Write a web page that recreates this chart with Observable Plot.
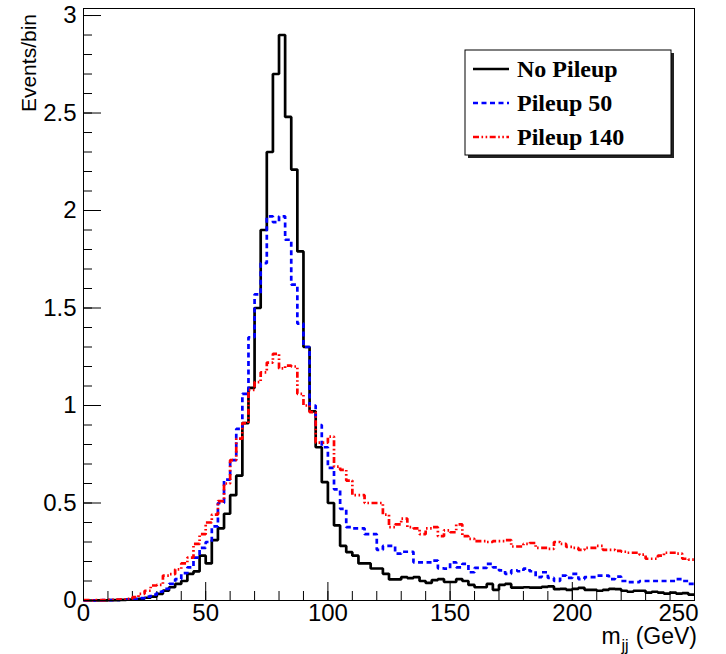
<!DOCTYPE html>
<html>
<head>
<meta charset="utf-8">
<script src="https://cdn.jsdelivr.net/npm/d3@7"></script>
<script src="https://cdn.jsdelivr.net/npm/@observablehq/plot@0.6"></script>
<style>
  html, body { margin: 0; padding: 0; background: #fff; }
  #wrap { position: relative; width: 726px; height: 654px; }
  #wrap svg.overlay { position: absolute; left: 0; top: 0; pointer-events: none; }
</style>
</head>
<body>
<div id="wrap"></div>
<script>
// Dijet invariant mass, 2.5 GeV bins from 0 to 250 GeV
const BIN_WIDTH = 2.5;
const X_MAX = 250;

const noPileup = [
  0, 0, 0.001, 0.001, 0.002, 0.002, 0.003, 0.004, 0.006, 0.009,
  0.014, 0.02, 0.034, 0.051, 0.068, 0.085, 0.10, 0.137, 0.149, 0.23,
  0.19, 0.31, 0.37, 0.445, 0.54, 0.64, 0.91, 1.09, 1.50, 1.90,
  2.30, 2.70, 2.90, 2.48, 2.21, 1.79, 1.30, 0.97, 0.786, 0.607,
  0.50, 0.385, 0.28, 0.248, 0.23, 0.19, 0.19, 0.164, 0.164, 0.137,
  0.108, 0.108, 0.12, 0.115, 0.12, 0.10, 0.09, 0.105, 0.11, 0.095,
  0.095, 0.11, 0.10, 0.08, 0.068, 0.068, 0.085, 0.055, 0.08, 0.085,
  0.066, 0.066, 0.068, 0.066, 0.066, 0.07, 0.072, 0.058, 0.06, 0.055,
  0.06, 0.065, 0.055, 0.055, 0.05, 0.055, 0.06, 0.058, 0.05, 0.045,
  0.05, 0.05, 0.04, 0.045, 0.04, 0.035, 0.04, 0.035, 0.038, 0.03
];

const pileup50 = [
  0, 0.001, 0.001, 0.002, 0.002, 0.003, 0.004, 0.005, 0.008, 0.012,
  0.02, 0.03, 0.045, 0.06, 0.085, 0.11, 0.14, 0.17, 0.22, 0.27,
  0.30, 0.38, 0.50, 0.62, 0.72, 0.88, 1.06, 1.35, 1.57, 1.73,
  1.97, 1.94, 1.97, 1.85, 1.62, 1.42, 1.30, 1.00, 0.90, 0.786,
  0.68, 0.57, 0.47, 0.376, 0.37, 0.37, 0.34, 0.34, 0.26, 0.28,
  0.28, 0.24, 0.25, 0.25, 0.196, 0.196, 0.196, 0.205, 0.165, 0.163,
  0.196, 0.17, 0.188, 0.145, 0.167, 0.167, 0.188, 0.17, 0.154, 0.137,
  0.154, 0.15, 0.163, 0.15, 0.12, 0.145, 0.116, 0.10, 0.128, 0.116,
  0.137, 0.11, 0.12, 0.12, 0.128, 0.128, 0.11, 0.122, 0.10, 0.094,
  0.094, 0.10, 0.10, 0.10, 0.10, 0.10, 0.10, 0.11, 0.10, 0.085
];

const pileup140 = [
  0.002, 0.001, 0.002, 0.002, 0.003, 0.004, 0.006, 0.009, 0.017, 0.034,
  0.05, 0.077, 0.08, 0.128, 0.135, 0.16, 0.19, 0.22, 0.29, 0.34,
  0.40, 0.44, 0.51, 0.60, 0.72, 0.83, 0.91, 1.08, 1.12, 1.17,
  1.22, 1.265, 1.19, 1.205, 1.20, 1.06, 1.00, 0.966, 0.81, 0.81,
  0.84, 0.687, 0.67, 0.615, 0.54, 0.54, 0.50, 0.50, 0.50, 0.44,
  0.376, 0.39, 0.42, 0.376, 0.37, 0.34, 0.37, 0.376, 0.33, 0.36,
  0.35, 0.39, 0.33, 0.316, 0.305, 0.305, 0.30, 0.305, 0.305, 0.31,
  0.277, 0.277, 0.29, 0.295, 0.27, 0.27, 0.265, 0.30, 0.29, 0.275,
  0.27, 0.26, 0.27, 0.27, 0.28, 0.26, 0.26, 0.255, 0.25, 0.245,
  0.245, 0.235, 0.214, 0.214, 0.23, 0.245, 0.245, 0.24, 0.214, 0.21
];

const seriesNames = ["No Pileup", "Pileup 50", "Pileup 140"];
const xTicks = [0, 50, 100, 150, 200, 250];
const xMinorTicks = [0, 10, 20, 30, 40, 50, 60, 70, 80, 90, 100, 110, 120, 130, 140, 150, 160, 170, 180, 190, 200, 210, 220, 230, 240, 250];
const yTicks = [0, 0.5, 1, 1.5, 2, 2.5, 3];
const yMinorTicks = d3.range(0, 3.001, 0.1).map(v => +v.toFixed(1));

const W = 726, H = 654;
const M = {left: 83, right: 32, top: 8, bottom: 54};
const frameW = W - M.left - M.right;
const frameH = H - M.top - M.bottom;
const SANS = "'Liberation Sans', Arial, sans-serif";

const styles = [
  {stroke: "#000000", strokeWidth: 2.7, dash: null},
  {stroke: "#0000ff", strokeWidth: 2.7, dash: "5,3.5"},
  {stroke: "#ff0000", strokeWidth: 2.7, dash: "6,2.5,1.6,2.5,1.6,2.5"}
];

// Histogram outline: one point per bin low edge, plus the closing edge
function steps(values) {
  const pts = values.map((v, i) => ({x: i * BIN_WIDTH, y: v}));
  pts.push({x: X_MAX, y: values[values.length - 1]});
  return pts;
}

const allSeries = [noPileup, pileup50, pileup140];
const lastX = xTicks[xTicks.length - 1];

const chart = Plot.plot({
  width: W,
  height: H,
  marginLeft: M.left,
  marginRight: M.right,
  marginTop: M.top,
  marginBottom: M.bottom,
  style: {fontFamily: SANS, background: "#fff"},
  x: {domain: [0, X_MAX]},
  y: {domain: [0, 3.036]},
  marks: [
    // inward ticks along the left and bottom edges
    Plot.tickY(yMinorTicks, {y: d => d, stroke: "black", strokeWidth: 1, insetRight: frameW - 9}),
    Plot.tickY(yTicks, {y: d => d, stroke: "black", strokeWidth: 1, insetRight: frameW - 18}),
    Plot.tickX(xMinorTicks, {x: d => d, stroke: "black", strokeWidth: 1, insetTop: frameH - 9}),
    Plot.tickX(xTicks, {x: d => d, stroke: "black", strokeWidth: 1, insetTop: frameH - 18}),
    Plot.axisY({ticks: yTicks, tickSize: 0, tickPadding: 7, fontSize: 24, tickFormat: d => String(d), label: null}),
    Plot.axisX({ticks: xTicks.filter(t => t !== lastX), tickSize: 0, tickPadding: 3, fontSize: 24, tickFormat: d => String(d), label: null}),
    // the label at the right edge is kept inside the frame
    Plot.axisX({ticks: [lastX], tickSize: 0, tickPadding: 3, fontSize: 24, textAnchor: "end", dx: 4, tickFormat: d => String(d), label: null}),
    ...allSeries.map((vals, k) => Plot.line(steps(vals), {
      x: "x", y: "y", curve: "step-after",
      stroke: styles[k].stroke, strokeWidth: styles[k].strokeWidth,
      strokeDasharray: styles[k].dash, strokeLinejoin: "miter", strokeLinecap: "butt"
    })),
    Plot.frame({stroke: "black", strokeWidth: 1})
  ]
});

const wrap = document.getElementById("wrap");
wrap.appendChild(chart);

// Axis titles and legend box drawn over the plot area
const ov = d3.select(wrap).append("svg")
  .attr("class", "overlay")
  .attr("xmlns", "http://www.w3.org/2000/svg")
  .attr("width", W).attr("height", H);

ov.append("text")
  .attr("transform", "translate(36,14) rotate(-90)")
  .attr("text-anchor", "end")
  .attr("font-family", SANS)
  .attr("font-size", 21)
  .text("Events/bin");

const xl = ov.append("text")
  .attr("x", 697).attr("y", 644)
  .attr("text-anchor", "end")
  .attr("font-family", SANS)
  .attr("font-size", 23);
xl.append("tspan").text("m");
xl.append("tspan").attr("font-size", 16).attr("dy", 7).attr("dx", 1).text("jj");
xl.append("tspan").attr("dy", -7).attr("dx", 7).text("(GeV)");

const lg = {x: 465, y: 50, w: 206, h: 105};
ov.append("rect").attr("x", lg.x + 3).attr("y", lg.y + 3).attr("width", lg.w).attr("height", lg.h).attr("fill", "#222");
ov.append("rect").attr("x", lg.x).attr("y", lg.y).attr("width", lg.w).attr("height", lg.h)
  .attr("fill", "#fff").attr("stroke", "#000").attr("stroke-width", 1);

seriesNames.forEach((name, k) => {
  const cy = 69 + k * 34;
  ov.append("line")
    .attr("x1", 473).attr("x2", 509).attr("y1", cy).attr("y2", cy)
    .attr("stroke", styles[k].stroke).attr("stroke-width", styles[k].strokeWidth)
    .attr("stroke-dasharray", styles[k].dash);
  ov.append("text")
    .attr("x", 517).attr("y", cy + 8)
    .attr("font-family", "'Liberation Serif', 'Times New Roman', serif")
    .attr("font-weight", "bold")
    .attr("font-size", 24)
    .text(name);
});
</script>
</body>
</html>
